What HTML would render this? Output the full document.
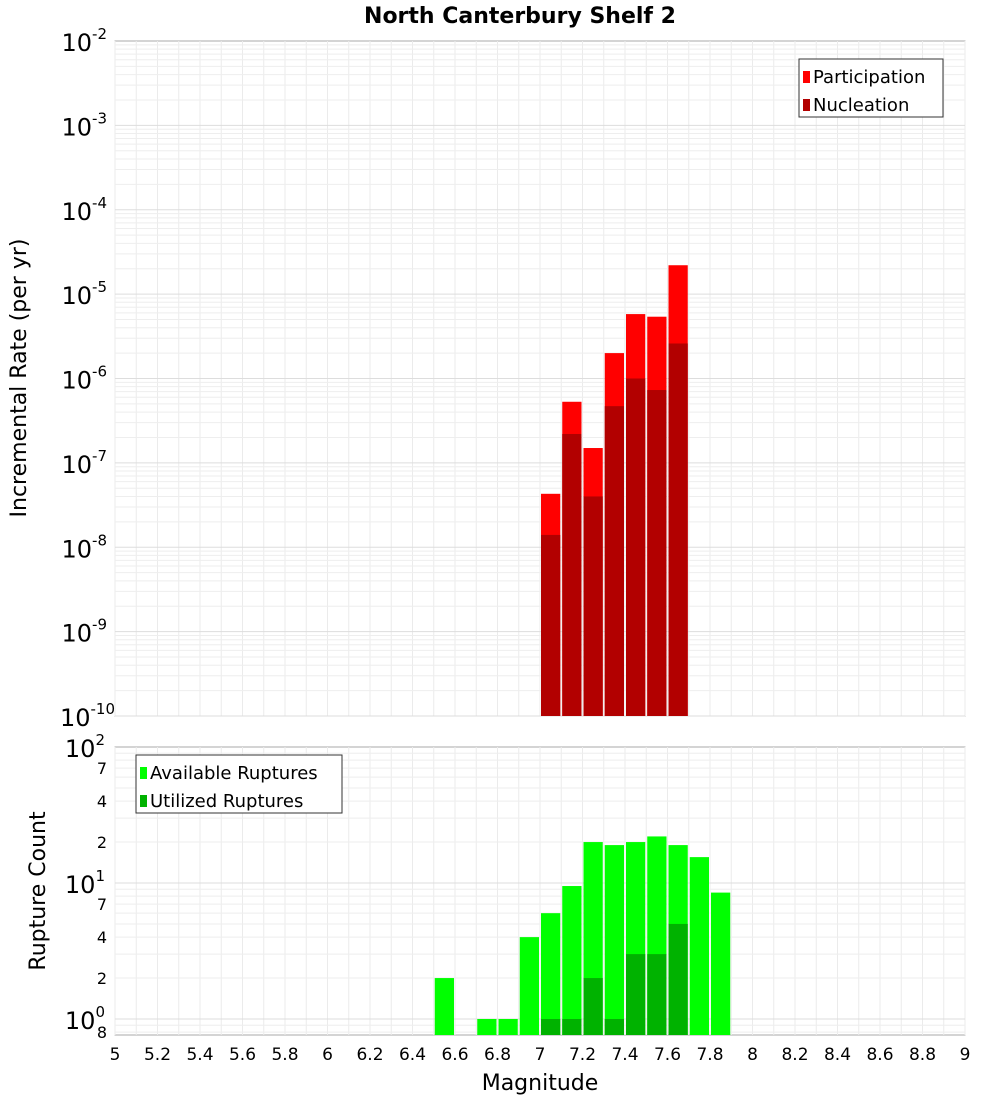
<!DOCTYPE html>
<html><head><meta charset="utf-8"><style>
body{margin:0;background:#fff;font-family:"Liberation Sans","DejaVu Sans",sans-serif}
svg text{font-family:"DejaVu Sans","Liberation Sans",sans-serif}
</style></head><body>
<svg id="c" width="1000" height="1100" xmlns="http://www.w3.org/2000/svg"></svg>
<script>
const magBins=[7.0,7.1,7.2,7.3,7.4,7.5,7.6];
const participation=[4.3e-8,5.3e-7,1.5e-7,2.0e-6,5.8e-6,5.4e-6,2.2e-5];
const nucleation=[1.4e-8,2.2e-7,4.0e-8,4.7e-7,1.0e-6,7.3e-7,2.6e-6];
const countBins=[6.5,6.7,6.8,6.9,7.0,7.1,7.2,7.3,7.4,7.5,7.6,7.7,7.8];
const available=[2,1,1,4,6,9.5,20,19,20,22,19,15.5,8.5];
const utilBins=[7.0,7.1,7.2,7.3,7.4,7.5,7.6];
const utilized=[1,1,2,1,3,3,5];
const xTicks=[5,5.2,5.4,5.6,5.8,6,6.2,6.4,6.6,6.8,7,7.2,7.4,7.6,7.8,8,8.2,8.4,8.6,8.8,9];
const topExp=[-2,-3,-4,-5,-6,-7,-8,-9,-10];
const botMinor=[7,4,2];

const S=document.getElementById('c'),NS='http://www.w3.org/2000/svg';
function mk(t,a,txt){const e=document.createElementNS(NS,t);for(const k in a)e.setAttribute(k,a[k]);if(txt!==undefined)e.textContent=txt;S.appendChild(e);return e;}
const X0=115,X1=965;
const x=m=>X0+(m-5)/4*(X1-X0);
const T0=41,T1=716;
const yT=v=>T0+(-2-Math.log10(v))/8*(T1-T0);
const B0=747,B1=1035;
const yB=v=>B0+(2-Math.log10(v))*136;

// panels
let e=mk('rect',{x:X0,y:T0,width:X1-X0,height:T1-T0,fill:'#fff',stroke:'#aaa'});

e=mk('rect',{x:X0,y:B0,width:X1-X0,height:B1-B0,fill:'#fff',stroke:'#aaa'});

// grids
for(let m=5;m<=9.001;m+=0.1){const xx=x(m);
 mk('line',{x1:xx,x2:xx,y1:T0,y2:T1,stroke:'#ebebeb'});mk('line',{x1:xx,x2:xx,y1:B0,y2:B1,stroke:'#ebebeb'});}
for(let d=-10;d<-2;d++)for(let k=1;k<10;k++){const yy=yT(k*Math.pow(10,d));mk('line',{x1:X0,x2:X1,y1:yy,y2:yy,stroke:k==1?'#ddd':'#eee'});}
for(let d=-1;d<2;d++)for(let k=1;k<10;k++){const v=k*Math.pow(10,d);const yy=yB(v);if(yy>B1||yy<B0)continue;mk('line',{x1:X0,x2:X1,y1:yy,y2:yy,stroke:k==1?'#ddd':'#eee'});}
// top bars
magBins.forEach((m,i)=>{
 let r=mk('rect',{x:x(m)+1,y:yT(participation[i]),width:x(m+0.1)-x(m)-2,height:T1-yT(participation[i]),fill:'#ff0000'});
 
 r=mk('rect',{x:x(m)+1,y:yT(nucleation[i]),width:x(m+0.1)-x(m)-2,height:T1-yT(nucleation[i]),fill:'#b20000'});
 
});
countBins.forEach((m,i)=>{
 const r=mk('rect',{x:x(m)+1,y:yB(available[i]),width:x(m+0.1)-x(m)-2,height:B1-yB(available[i]),fill:'#00ff00'});
 
});
utilBins.forEach((m,i)=>{
 const r=mk('rect',{x:x(m)+1,y:yB(utilized[i]),width:x(m+0.1)-x(m)-2,height:B1-yB(utilized[i]),fill:'#00b200'});
 
});
// x ticks
xTicks.forEach(m=>{const t=mk('text',{x:x(m),y:1060,'font-size':17,'text-anchor':'middle'},String(m));
 });
// top y labels
topExp.forEach(d=>{const yy=yT(Math.pow(10,d));
 const t=mk('text',{x:107,y:yy+10,'font-size':24,'text-anchor':'end'});
 
 const a=document.createElementNS(NS,'tspan');a.textContent='10';t.appendChild(a);
 const b=document.createElementNS(NS,'tspan');b.setAttribute('font-size','15');b.setAttribute('dy','-12');b.textContent=String(d);t.appendChild(b);
 if(d==-10){t.setAttribute('x',115);}
});
// bottom y labels
[[100,'2'],[10,'1'],[1,'0']].forEach(([v,p])=>{const yy=yB(v);
 const t=mk('text',{x:105,y:yy+10,'font-size':24,'text-anchor':'end'});
 
 const a=document.createElementNS(NS,'tspan');a.textContent='10';t.appendChild(a);
 const b=document.createElementNS(NS,'tspan');b.setAttribute('font-size','15');b.setAttribute('dy','-12');b.textContent=p;t.appendChild(b);
});
[70,40,20,7,4,2,0.8].forEach(v=>{const yy=yB(v);
 const t=mk('text',{x:107,y:yy+6,'font-size':16,'text-anchor':'end'},v==0.8?'8':String(String(v)[0]));
 });
// titles
e=mk('text',{x:520,y:23,'font-size':22,'font-weight':'bold','text-anchor':'middle'},'North Canterbury Shelf 2');

e=mk('text',{x:540,y:1090,'font-size':22,'text-anchor':'middle'},'Magnitude');

e=mk('text',{x:0,y:0,'font-size':22,'text-anchor':'middle',transform:'translate(26,378) rotate(-90)'},'Incremental Rate (per yr)');

e=mk('text',{x:0,y:0,'font-size':22,'text-anchor':'middle',transform:'translate(45,891) rotate(-90)'},'Rupture Count');

// legends
function legend(x0,y0,w,items,name){
 const g=mk('rect',{x:x0,y:y0,width:w,height:58,fill:'#fff',stroke:'#333'});
 
 items.forEach(([c,l],i)=>{mk('rect',{x:x0+4,y:y0+12+i*28,width:7,height:12,fill:c});
  const t=mk('text',{x:x0+14,y:y0+24+i*28,'font-size':18},l);
  });
}
legend(799,59,144,[['#ff0000','Participation'],['#b20000','Nucleation']],'top-legend');
legend(136,755,206,[['#00ff00','Available Ruptures'],['#00b200','Utilized Ruptures']],'bottom-legend');
</script>
</body></html>
